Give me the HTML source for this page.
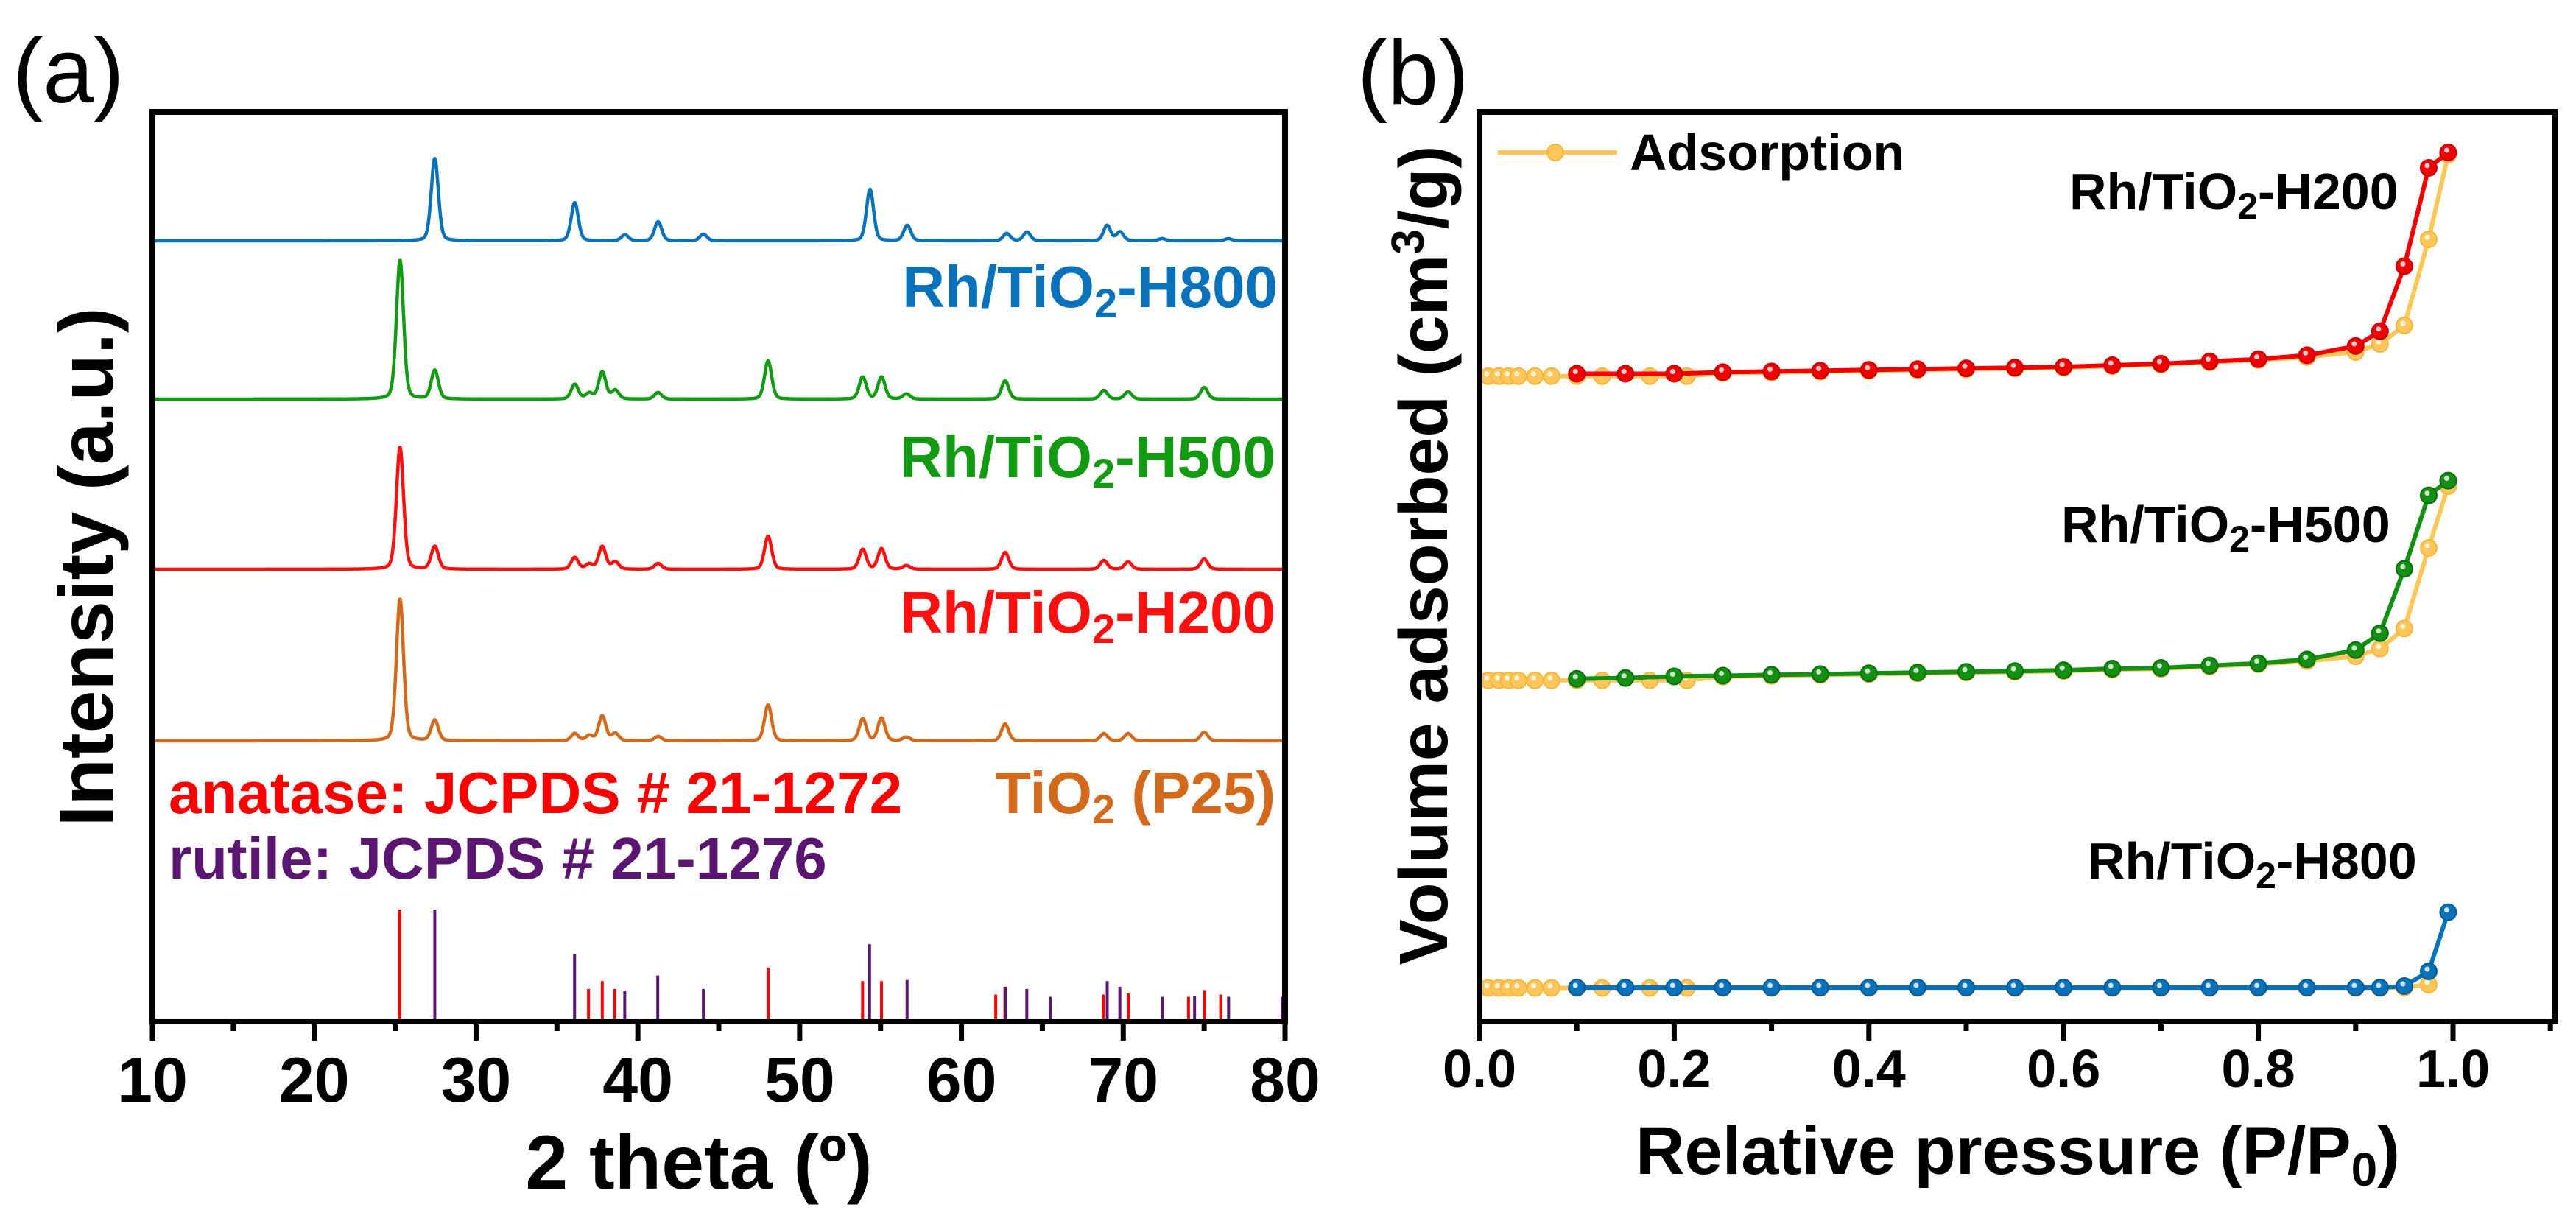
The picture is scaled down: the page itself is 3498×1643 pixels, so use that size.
<!DOCTYPE html>
<html><head><meta charset="utf-8"><style>
html,body{margin:0;padding:0;background:#fff;}
svg{display:block;font-family:"Liberation Sans",Arial,sans-serif;}
</style></head><body>
<svg id="fig" width="3498" height="1643" viewBox="0 0 3498 1643" xmlns="http://www.w3.org/2000/svg">
<rect width="3498" height="1643" fill="#fff"/>
<g id="pa"></g>
<g id="pb"></g>
</svg>
<script>
// ---------- Panel (a) data ----------
const xrdTicks = [10,20,30,40,50,60,70,80];
const xrdSeriesNames = ["Rh/TiO2-H800","Rh/TiO2-H500","Rh/TiO2-H200","TiO2 (P25)"];
const xrdBaselines = [327, 542, 773, 1006];
const h800Pos = [27.45,36.1,39.2,41.25,44.05,54.35,56.65,62.8,64.05,69.0,69.8,72.4,76.5];
const h800Int = [112,52,8,26,9,70,21,10,12,21,12,3,3];
const h500Pos = [25.3,27.45,36.1,37.0,37.8,38.6,41.25,48.05,53.9,55.06,56.6,62.7,68.8,70.3,75.0];
const h500Int = [189,39,20,8,37,12,9,52,30,30,7,25,12,10,16];
const h200Pos = [25.3,27.45,36.1,37.0,37.8,38.6,41.25,48.05,53.9,55.06,56.6,62.7,68.8,70.3,75.0];
const h200Int = [166,31,16,7,31,10,8,45,27,28,5,23,12,10,14];
const p25Pos = [25.3,27.45,36.1,37.0,37.8,38.6,41.25,48.05,53.9,55.06,56.6,62.7,68.8,70.3,75.0];
const p25Int = [193,28,10,7,34,10,6,49,30,31,5,23,10,10,12];
const anatasePos = [25.28,36.95,37.8,38.57,48.05,53.89,55.06,62.12,62.69,68.76,70.31,74.03,75.03,76.02];
const anataseInt = [100,29,36,29,48,36,36,24,31,24,25,22,28,24];
const rutilePos = [27.45,36.09,39.19,41.23,44.05,54.32,56.64,62.74,64.04,65.48,69.01,69.79,72.41,74.41,76.51,79.82];
const rutileInt = [100,60,27,41,29,69,37,31,29,22,36,31,22,23,22,22];

// ---------- Panel (b) data ----------
const pTicks = [0.0,0.2,0.4,0.6,0.8,1.0];
const pMain = [0.1,0.15,0.2,0.25,0.3,0.35,0.4,0.45,0.5,0.55,0.6,0.65,0.7,0.75,0.8,0.85,0.9,0.925,0.95,0.975,0.995];
const vH200 = [71.77,71.77,71.77,71.94,72.02,72.10,72.19,72.27,72.36,72.44,72.53,72.70,72.87,73.12,73.37,73.80,74.81,76.43,83.56,94.35,96.04];
const vH500 = [38.31,38.40,38.57,38.65,38.74,38.82,38.91,38.99,39.08,39.16,39.25,39.42,39.50,39.76,40.01,40.44,41.46,43.32,50.37,58.43,60.05];
const vH800 = [4.44,4.44,4.44,4.44,4.44,4.44,4.44,4.44,4.44,4.44,4.44,4.44,4.44,4.44,4.44,4.44,4.44,4.44,4.60,6.22,12.71];
const pAds = [0.009,0.02,0.03,0.04,0.057,0.074,0.1,0.126,0.175,0.213,0.25,0.3,0.35,0.4,0.45,0.5,0.55,0.6,0.65,0.7,0.75,0.8,0.85,0.9,0.925,0.95,0.975,0.995];
const aH200 = [71.51,71.51,71.51,71.51,71.51,71.51,71.51,71.51,71.51,71.51,71.84,71.92,72.0,72.09,72.17,72.26,72.34,72.43,72.6,72.77,73.02,73.27,73.6,74.15,75.04,77.06,86.51,95.80];
const aH500 = [38.14,38.14,38.14,38.14,38.14,38.14,38.14,38.14,38.14,38.14,38.55,38.64,38.72,38.81,38.89,38.98,39.06,39.15,39.32,39.4,39.66,39.91,40.24,40.78,41.62,43.83,52.67,59.45];
const aH800 = [4.40,4.40,4.40,4.40,4.40,4.40,4.40,4.40,4.40,4.40,4.40,4.40,4.40,4.40,4.40,4.40,4.40,4.40,4.40,4.40,4.40,4.40,4.40,4.40,4.40,4.45,4.77];

const NS = "http://www.w3.org/2000/svg";
function mk(tag, attrs, parent){ const e=document.createElementNS(NS,tag); for(const k in attrs) e.setAttribute(k, attrs[k]); parent.appendChild(e); return e; }

// ---------- Panel (a) ----------
const pa = document.getElementById('pa');
const AX0=207, AX1=1745, AT=152, AB=1387;
const xA = t => AX0 + (t-10)/(80-10)*(AX1-AX0);

function profile(t, pos, inten){
  let s=0;
  for(let i=0;i<pos.length;i++){
    const d=t-pos[i], w=0.26;
    s += inten[i]*(0.75*Math.exp(-d*d/(2*(w/1.1774)*(w/1.1774))) + 0.25/(1+(d/w)*(d/w)));
  }
  return s;
}
const xrdPos=[h800Pos,h500Pos,h200Pos,p25Pos], xrdInt=[h800Int,h500Int,h200Int,p25Int];
const xrdColors=["#0a72ba","#139a13","#ff1010","#d3691c"];
const xrdKeys=["h800","h500","h200","p25"];
for(let s=0;s<4;s++){
  let d="";
  for(let t=10; t<=80.0001; t+=0.04){
    const y = xrdBaselines[s] - profile(t, xrdPos[s], xrdInt[s]);
    d += (d?"L":"M")+xA(t).toFixed(1)+" "+y.toFixed(1);
  }
  const p = mk('path',{d:d,fill:"none",stroke:xrdColors[s],"stroke-width":4.5,"stroke-linejoin":"round"},pa);
  
  
}
// reference sticks
const stickFull = 152;
for(let i=0;i<anatasePos.length;i++){
  const l = mk('line',{x1:xA(anatasePos[i]),x2:xA(anatasePos[i]),y1:AB,y2:AB-stickFull*anataseInt[i]/100,stroke:"#ff0000","stroke-width":4},pa);
  
  
}
for(let i=0;i<rutilePos.length;i++){
  const l = mk('line',{x1:xA(rutilePos[i]),x2:xA(rutilePos[i]),y1:AB,y2:AB-stickFull*rutileInt[i]/100,stroke:"#5a1670","stroke-width":4},pa);
  
  
}
// frame
const fa = mk('rect',{x:AX0,y:AT,width:AX1-AX0,height:AB-AT,fill:"none",stroke:"#000","stroke-width":8},pa);


for(let t=10;t<=80;t+=5){
  const major = (t%10===0);
  const tk = mk('line',{x1:xA(t),x2:xA(t),y1:AB,y2:AB+(major?26:13),stroke:"#000","stroke-width":7},pa);
  
  
}
xrdTicks.forEach(t=>{
  const tx = mk('text',{x:xA(t),y:1496,"text-anchor":"middle","font-size":86,"font-weight":"bold",fill:"#000"},pa);
  tx.textContent = String(t);
  
  
});
</script>
<script>
// static text of panel (a) appended via markup helper
(function(){
  const pa=document.getElementById('pa');
  pa.insertAdjacentHTML('beforeend', `
  <text x="17" y="139" font-size="124" fill="#000">(a)</text>
  <text x="949" y="1614" text-anchor="middle" font-size="104" font-weight="bold" fill="#000">2 theta (º)</text>
  <text transform="translate(153,770) rotate(-90)" text-anchor="middle" font-size="104" font-weight="bold" fill="#000">Intensity (a.u.)</text>
  <text x="1735" y="417" text-anchor="end" font-size="80" font-weight="bold" fill="#0a72ba">Rh/TiO<tspan font-size="56" dy="14">2</tspan><tspan dy="-14">-H800</tspan></text>
  <text x="1732" y="648" text-anchor="end" font-size="80" font-weight="bold" fill="#139a13">Rh/TiO<tspan font-size="56" dy="14">2</tspan><tspan dy="-14">-H500</tspan></text>
  <text x="1732" y="859" text-anchor="end" font-size="80" font-weight="bold" fill="#ff1010">Rh/TiO<tspan font-size="56" dy="14">2</tspan><tspan dy="-14">-H200</tspan></text>
  <text x="1732" y="1104" text-anchor="end" font-size="80" font-weight="bold" fill="#d3691c">TiO<tspan font-size="56" dy="14">2</tspan><tspan dy="-14"> (P25)</tspan></text>
  <text x="229" y="1104" font-size="80" font-weight="bold" fill="#ff0000">anatase: JCPDS # 21-1272</text>
  <text x="229" y="1193" font-size="80" font-weight="bold" fill="#5a1670">rutile: JCPDS # 21-1276</text>
  `);
})();
</script>
<script>
// ---------- Panel (b) ----------
(function(){
const pb = document.getElementById('pb');
const BX0=2009, BX1=3470, BT=152, BB=1387;
const xB = p => BX0 + p*(3331-BX0);
const yB = v => 1396 - v*12.38;

function series(px, vals, color, rim, key){
  const g = mk('g',{},pb);
  
  
  let d="";
  for(let i=0;i<vals.length;i++) d += (i?"L":"M")+xB(px[i]).toFixed(1)+" "+yB(vals[i]).toFixed(1);
  mk('path',{d:d,fill:"none",stroke:color,"stroke-width":6,"stroke-linejoin":"round"},g);
  for(let i=0;i<vals.length;i++){
    const c = mk('circle',{cx:xB(px[i]),cy:yB(vals[i]),r:11,fill:color,stroke:rim,"stroke-width":2},g);
    
    
    mk('circle',{cx:xB(px[i])-2,cy:yB(vals[i])-3,r:3.5,fill:"#fff","fill-opacity":0.8},g);
  }
}
const ads="#ffc65a", adsRim="#f5b640";
series(pAds, aH200, ads, adsRim, 'h200-adsorption');
series(pMain, vH200, "#f00000", "#c80000", 'h200-desorption');
series(pAds, aH500, ads, adsRim, 'h500-adsorption');
series(pMain, vH500, "#139013", "#0a700a", 'h500-desorption');
series(pAds.slice(0,aH800.length), aH800, ads, adsRim, 'h800-adsorption');
series(pMain, vH800, "#0a72ba", "#065c98", 'h800-desorption');

const fb = mk('rect',{x:BX0,y:BT,width:BX1-BX0,height:BB-BT,fill:"none",stroke:"#000","stroke-width":8},pb);


for(let k=0;k<=11;k++){
  const p=k/10, major=(k%2===0);
  const tk = mk('line',{x1:xB(p),x2:xB(p),y1:BB,y2:BB+(major?26:13),stroke:"#000","stroke-width":7},pb);
  
  
}
pTicks.forEach(p=>{
  const tx = mk('text',{x:xB(p),y:1476,"text-anchor":"middle","font-size":72,"font-weight":"bold",fill:"#000"},pb);
  tx.textContent = p.toFixed(1);
  
  
});
// legend
const lg = mk('g',{},pb);


mk('line',{x1:2034,x2:2196,y1:207,y2:207,stroke:ads,"stroke-width":6},lg);
mk('circle',{cx:2112,cy:207,r:11,fill:ads,stroke:adsRim,"stroke-width":2},lg);
const lt = mk('text',{x:2213,y:231,"font-size":70,"font-weight":"bold",fill:"#000"},lg);
lt.textContent="Adsorption";

pb.insertAdjacentHTML('beforeend', `
  <text x="1843" y="141" font-size="124" fill="#000">(b)</text>
  <text x="2740" y="1594" text-anchor="middle" font-size="92" font-weight="bold" fill="#000">Relative pressure (P/P<tspan font-size="64" dy="16">0</tspan><tspan dy="-16">)</tspan></text>
  <text transform="translate(1965,754) rotate(-90)" text-anchor="middle" font-size="93" font-weight="bold" fill="#000">Volume adsorbed (cm<tspan font-size="62" dy="-32">3</tspan><tspan dy="32">/g)</tspan></text>
  <text x="2810" y="284" font-size="70" font-weight="bold" fill="#000">Rh/TiO<tspan font-size="50" dy="13">2</tspan><tspan dy="-13">-H200</tspan></text>
  <text x="2799" y="736" font-size="70" font-weight="bold" fill="#000">Rh/TiO<tspan font-size="50" dy="13">2</tspan><tspan dy="-13">-H500</tspan></text>
  <text x="2835" y="1193" font-size="70" font-weight="bold" fill="#000">Rh/TiO<tspan font-size="50" dy="13">2</tspan><tspan dy="-13">-H800</tspan></text>
`);
})();
</script>
</body></html>
